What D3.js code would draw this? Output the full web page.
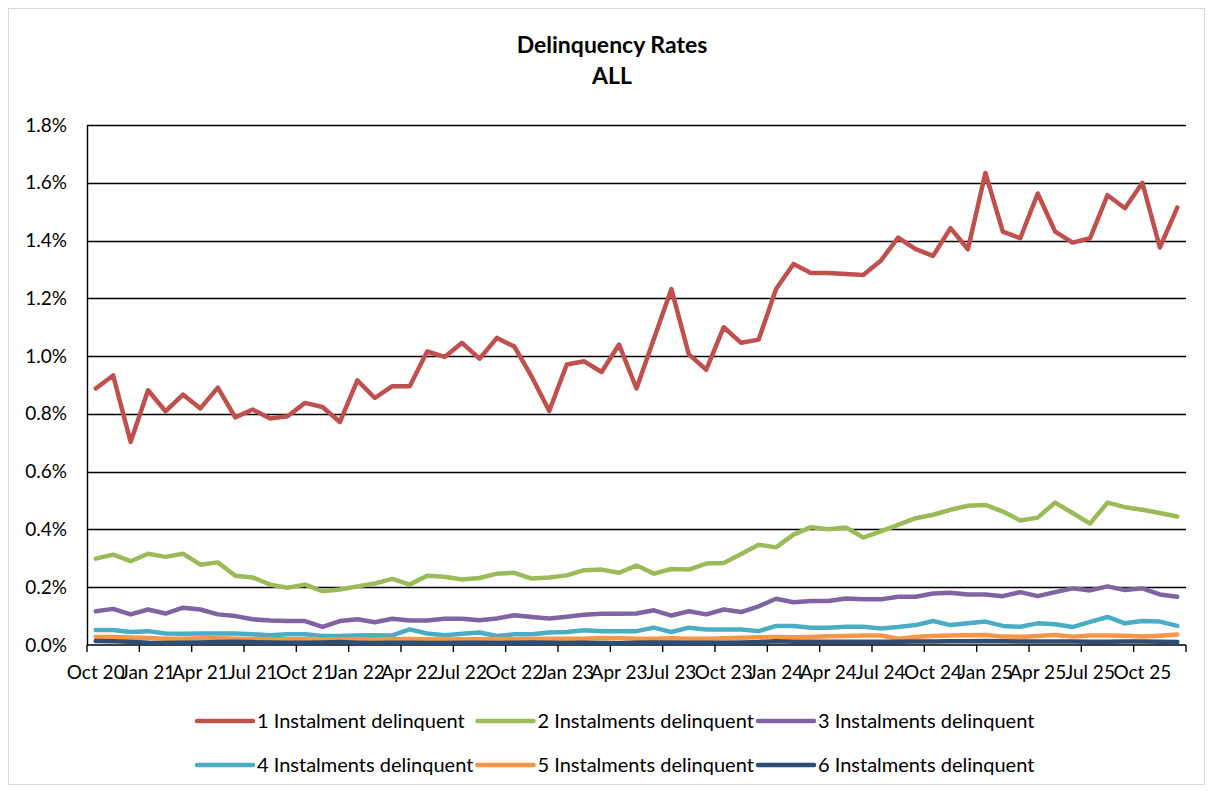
<!DOCTYPE html>
<html>
<head>
<meta charset="utf-8">
<script src="https://cdn.jsdelivr.net/npm/d3@7"></script>
<style>
  body { margin: 0; background: #fff; }
  svg { display: block; font-family: Lato, "Open Sans", sans-serif; }
  .tick text { fill: #000; }
</style>
</head>
<body>
<div id="chart"></div>
<script>
// monthly categories, Oct 20 .. Dec 25
const months = d3.utcMonth.range(new Date(Date.UTC(2020, 9, 1)), new Date(Date.UTC(2026, 0, 1)));
const monthFmt = d3.utcFormat('%b %y');

const yTicks = [0, 0.2, 0.4, 0.6, 0.8, 1.0, 1.2, 1.4, 1.6, 1.8];

const seriesNames = [
  '1 Instalment delinquent',
  '2 Instalments delinquent',
  '3 Instalments delinquent',
  '4 Instalments delinquent',
  '5 Instalments delinquent',
  '6 Instalments delinquent'
];
const seriesColors = ['#c0504d', '#9bbb59', '#8064a2', '#4bacc6', '#f79646', '#2c4d75'];

// values in %
const inst1 = [
  0.888, 0.933, 0.703, 0.882, 0.809, 0.867, 0.819, 0.891, 0.788, 0.815, 0.784, 0.792,
  0.838, 0.824, 0.772, 0.916, 0.855, 0.896, 0.896, 1.016, 0.997, 1.046, 0.991, 1.063,
  1.033, 0.928, 0.810, 0.971, 0.982, 0.945, 1.040, 0.888, 1.060, 1.232, 1.006, 0.953,
  1.100, 1.046, 1.057, 1.232, 1.319, 1.288, 1.288, 1.284, 1.281, 1.330, 1.410, 1.370,
  1.347, 1.443, 1.370, 1.634, 1.431, 1.408, 1.563, 1.431, 1.393, 1.408, 1.557, 1.512,
  1.600, 1.376, 1.514
];
const inst2 = [
  0.299, 0.313, 0.290, 0.316, 0.305, 0.316, 0.278, 0.286, 0.240, 0.234, 0.209, 0.198,
  0.209, 0.186, 0.192, 0.203, 0.213, 0.229, 0.209, 0.240, 0.236, 0.227, 0.232, 0.247,
  0.250, 0.230, 0.234, 0.241, 0.259, 0.261, 0.250, 0.275, 0.247, 0.263, 0.261, 0.282,
  0.284, 0.315, 0.347, 0.338, 0.382, 0.408, 0.401, 0.407, 0.372, 0.393, 0.416, 0.439,
  0.451, 0.468, 0.482, 0.485, 0.462, 0.431, 0.441, 0.493, 0.457, 0.420, 0.493, 0.477,
  0.468, 0.457, 0.445
];
const inst3 = [
  0.117, 0.125, 0.106, 0.123, 0.109, 0.129, 0.123, 0.106, 0.100, 0.089, 0.085, 0.083,
  0.083, 0.063, 0.083, 0.089, 0.079, 0.091, 0.085, 0.085, 0.091, 0.091, 0.086, 0.092,
  0.103, 0.097, 0.092, 0.098, 0.105, 0.108, 0.108, 0.109, 0.120, 0.102, 0.117, 0.106,
  0.123, 0.114, 0.134, 0.160, 0.148, 0.152, 0.152, 0.161, 0.158, 0.158, 0.167, 0.167,
  0.178, 0.181, 0.175, 0.175, 0.169, 0.183, 0.169, 0.183, 0.196, 0.189, 0.203, 0.190,
  0.196, 0.175, 0.167
];
const inst4 = [
  0.052, 0.052, 0.045, 0.048, 0.040, 0.039, 0.040, 0.040, 0.040, 0.037, 0.034, 0.037,
  0.037, 0.031, 0.031, 0.033, 0.034, 0.033, 0.054, 0.040, 0.034, 0.039, 0.043, 0.031,
  0.037, 0.037, 0.043, 0.045, 0.051, 0.048, 0.048, 0.048, 0.060, 0.045, 0.060, 0.054,
  0.054, 0.054, 0.048, 0.066, 0.066, 0.060, 0.060, 0.063, 0.063, 0.057, 0.062, 0.069,
  0.083, 0.069, 0.075, 0.081, 0.066, 0.063, 0.075, 0.072, 0.062, 0.080, 0.097, 0.075,
  0.083, 0.081, 0.066
];
const inst5 = [
  0.028, 0.028, 0.026, 0.024, 0.022, 0.022, 0.023, 0.024, 0.022, 0.021, 0.020, 0.020,
  0.020, 0.019, 0.019, 0.019, 0.020, 0.020, 0.021, 0.020, 0.019, 0.020, 0.020, 0.021,
  0.020, 0.021, 0.022, 0.022, 0.022, 0.024, 0.023, 0.022, 0.022, 0.023, 0.022, 0.022,
  0.023, 0.025, 0.027, 0.028, 0.027, 0.028, 0.030, 0.031, 0.033, 0.033, 0.022, 0.028,
  0.031, 0.033, 0.034, 0.035, 0.029, 0.028, 0.031, 0.035, 0.029, 0.033, 0.033, 0.032,
  0.029, 0.032, 0.036
];
const inst6 = [
  0.014, 0.013, 0.011, 0.008, 0.007, 0.008, 0.009, 0.010, 0.011, 0.010, 0.009, 0.008,
  0.008, 0.009, 0.010, 0.008, 0.007, 0.008, 0.008, 0.007, 0.007, 0.008, 0.008, 0.007,
  0.008, 0.009, 0.008, 0.007, 0.008, 0.007, 0.006, 0.008, 0.009, 0.009, 0.008, 0.008,
  0.008, 0.009, 0.010, 0.013, 0.011, 0.011, 0.011, 0.011, 0.011, 0.011, 0.011, 0.012,
  0.012, 0.013, 0.013, 0.014, 0.013, 0.012, 0.012, 0.012, 0.012, 0.011, 0.011, 0.012,
  0.012, 0.011, 0.010
];

const seriesValues = [inst1, inst2, inst3, inst4, inst5, inst6];

let width = 1212;
let height = 791;
let margin = { top: 125, right: 26, bottom: 146, left: 87 };

const svg = d3.select('#chart')
  .append('svg')
  .attr('width', width)
  .attr('height', height);

// chart area border
svg.append('rect')
  .attr('x', 8.5).attr('y', 8.5)
  .attr('width', 1196).attr('height', 776)
  .attr('fill', '#fff')
  .attr('stroke', '#d9d9d9');

// titles
svg.append('text')
  .attr('x', 612).attr('y', 53)
  .attr('text-anchor', 'middle')
  .attr('font-weight', 'bold')
  .attr('font-size', 23)
  .text('Delinquency Rates');
svg.append('text')
  .attr('x', 612).attr('y', 84)
  .attr('text-anchor', 'middle')
  .attr('font-weight', 'bold')
  .attr('font-size', 23)
  .text('ALL');

let x = d3.scaleBand()
  .domain(months.map((d) => +d))
  .range([margin.left, width - margin.right])
  .padding(0);

let y = d3.scaleLinear()
  .domain([0, 1.8])
  .range([height - margin.bottom, margin.top]);

let cx = (i) => x(+months[i]) + x.bandwidth() / 2;

// gridlines
svg.append('g')
  .selectAll('line')
  .data(yTicks.filter((d) => d > 0))
  .enter()
  .append('line')
  .attr('x1', margin.left)
  .attr('x2', width - margin.right)
  .attr('y1', (d) => Math.round(y(d)) + 0.5)
  .attr('y2', (d) => Math.round(y(d)) + 0.5)
  .attr('stroke', '#000')
  .attr('stroke-width', 1.4);

// y axis
let yAxis = (g) =>
  g.attr('transform', `translate(${margin.left},0)`)
    .call(d3.axisLeft(y).tickValues(yTicks).tickFormat((d) => d.toFixed(1) + '%').tickSize(0).tickPadding(20))
    .call((g) => g.select('.domain').attr('stroke', '#000').attr('stroke-width', 1.4))
    .call((g) => g.selectAll('.tick text').attr('font-size', 19).attr('font-family', 'Lato'));
svg.append('g').call(yAxis);

// x axis: tick marks at category boundaries every 3 months, labels centred on category
let boundaries = months.filter((d, i) => i % 3 === 0).map((d) => x(+d));
boundaries.push(width - margin.right);

let xAxisG = svg.append('g');
xAxisG.append('line')
  .attr('x1', margin.left).attr('x2', width - margin.right)
  .attr('y1', y(0)).attr('y2', y(0))
  .attr('stroke', '#000').attr('stroke-width', 1.4);
xAxisG.selectAll('line.tick')
  .data(boundaries)
  .enter()
  .append('line')
  .attr('class', 'tick')
  .attr('x1', (d) => d).attr('x2', (d) => d)
  .attr('y1', y(0)).attr('y2', y(0) + 7)
  .attr('stroke', '#000').attr('stroke-width', 1.4);
xAxisG.selectAll('text')
  .data(months.filter((d, i) => i % 3 === 0))
  .enter()
  .append('text')
  .attr('x', (d) => x(+d) + x.bandwidth() / 2)
  .attr('y', y(0) + 34)
  .attr('text-anchor', 'middle')
  .attr('font-size', 19)
  .text((d) => monthFmt(d));

// lines
var line = d3.line()
  .x((d, i) => cx(i))
  .y((d) => y(d));

svg.append('g')
  .selectAll('path')
  .data(seriesValues)
  .enter()
  .append('path')
  .attr('d', (d) => line(d))
  .attr('fill', 'none')
  .attr('stroke', (d, i) => seriesColors[i])
  .attr('stroke-width', 4.5)
  .attr('stroke-linejoin', 'round')
  .attr('stroke-linecap', 'round');

// legend
let legendCols = [197, 477.5, 758];
let legendRows = [721, 765];

var legend = svg.selectAll('g.legend')
  .data(seriesNames)
  .enter()
  .append('g')
  .attr('class', 'legend')
  .attr('transform', (d, i) => `translate(${legendCols[i % 3]},${legendRows[Math.floor(i / 3)]})`);

legend.append('line')
  .attr('x1', 0).attr('x2', 56)
  .attr('y1', 0).attr('y2', 0)
  .attr('stroke', (d, i) => seriesColors[i])
  .attr('stroke-width', 4.5)
  .attr('stroke-linecap', 'round');

legend.append('text')
  .attr('x', 60)
  .attr('y', 0)
  .attr('dy', '0.35em')
  .attr('font-size', 20)
  .text((d) => d);
</script>
</body>
</html>
